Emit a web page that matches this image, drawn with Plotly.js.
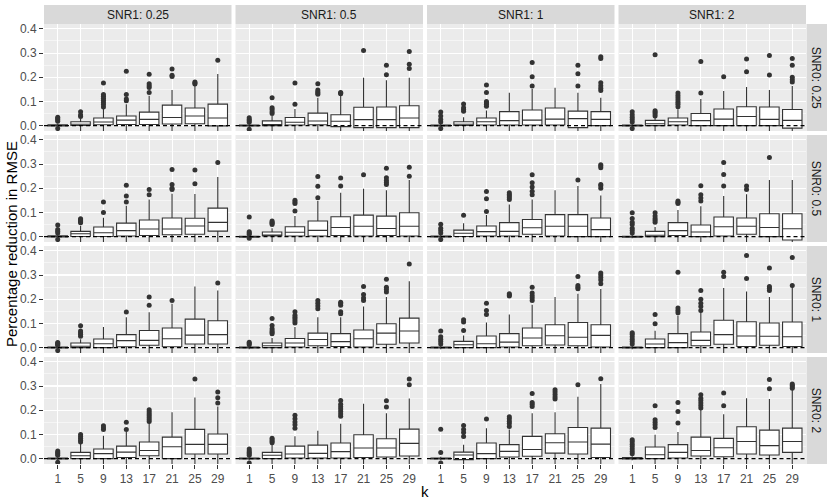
<!DOCTYPE html>
<html>
<head>
<meta charset="utf-8">
<script src="https://cdn.plot.ly/plotly-3.0.1.min.js"></script>
<style>
  html, body { margin: 0; padding: 0; background: white; }
  #chart { width: 830px; height: 504px; }
</style>
</head>
<body>
<div id="chart"></div>
<script>
// boxplots of RMSE reduction, faceted by SNR0 (rows) and SNR1 (columns)

var kLabels = ['1', '5', '9', '13', '17', '21', '25', '29'];
var snr1Labels = ['SNR1: 0.25', 'SNR1: 0.5', 'SNR1: 1', 'SNR1: 2'];
var snr0Labels = ['SNR0: 0.25', 'SNR0: 0.5', 'SNR0: 1', 'SNR0: 2'];

// [row][col][k]
var q1 = [
  [[-0.001,0.001,0.004,0.005,0.005,0.007,0.008,-0.001],
   [-0.001,0.0,0.003,0.004,-0.004,-0.008,-0.008,-0.008],
   [-0.001,0.001,0.003,0.003,0.003,0.003,-0.008,0.0],
   [-0.001,0.0,0.003,0.0,0.0,0.0,0.0,-0.01]],
  [[-0.001,0.001,0.001,0.003,0.005,0.008,0.01,0.023],
   [-0.002,0.003,0.003,0.003,0.005,0.003,0.005,0.003],
   [-0.001,0.001,0.003,0.003,0.01,0.003,0.0,0.0],
   [-0.002,0.0,0.005,0.0,0.003,0.01,0.0,-0.014]],
  [[-0.001,0.0,0.0,0.004,0.01,0.004,0.015,0.015],
   [-0.001,0.0,0.003,0.008,0.005,0.003,0.014,0.019],
   [-0.001,0.0,0.0,0.003,0.008,0.011,0.008,0.003],
   [-0.001,0.0,0.0,0.008,0.014,0.005,0.01,0.005]],
  [[-0.001,0.0,0.0,0.005,0.012,0.0,0.019,0.019],
   [-0.001,0.0,0.003,0.003,0.003,0.005,0.007,0.011],
   [-0.001,-0.004,0.0,0.007,0.01,0.023,0.019,0.005],
   [-0.001,0.0,0.003,0.011,0.008,0.019,0.015,0.026]]
];

var med = [
  [[0.001,0.006,0.015,0.023,0.026,0.034,0.04,0.032],
   [0.001,0.004,0.014,0.019,0.018,0.025,0.025,0.032],
   [0.001,0.006,0.016,0.021,0.023,0.027,0.029,0.026],
   [0.001,0.008,0.016,0.021,0.027,0.038,0.026,0.022]],
  [[0.001,0.012,0.016,0.025,0.032,0.032,0.044,0.059],
   [0.0,0.007,0.018,0.026,0.038,0.043,0.034,0.043],
   [0.001,0.014,0.021,0.022,0.037,0.043,0.043,0.029],
   [0.0,0.006,0.025,0.019,0.041,0.043,0.038,0.033]],
  [[0.001,0.006,0.016,0.029,0.03,0.037,0.052,0.054],
   [0.001,0.008,0.019,0.034,0.025,0.037,0.06,0.069],
   [0.001,0.012,0.016,0.023,0.04,0.049,0.043,0.051],
   [0.001,0.015,0.021,0.03,0.054,0.048,0.047,0.045]],
  [[0.001,0.012,0.021,0.027,0.034,0.049,0.059,0.059],
   [0.001,0.014,0.019,0.022,0.029,0.044,0.044,0.063],
   [0.001,0.015,0.021,0.03,0.038,0.066,0.069,0.06],
   [0.001,0.016,0.026,0.034,0.045,0.071,0.054,0.071]]
];

var q3 = [
  [[0.004,0.016,0.032,0.04,0.056,0.085,0.073,0.089],
   [0.003,0.02,0.034,0.052,0.045,0.076,0.077,0.082],
   [0.003,0.016,0.032,0.058,0.065,0.073,0.06,0.058],
   [0.003,0.022,0.032,0.05,0.069,0.078,0.077,0.067]],
  [[0.004,0.022,0.04,0.056,0.069,0.077,0.076,0.118],
   [0.002,0.019,0.041,0.065,0.082,0.089,0.085,0.099],
   [0.003,0.027,0.044,0.058,0.071,0.091,0.091,0.077],
   [0.002,0.022,0.058,0.048,0.081,0.077,0.095,0.095]],
  [[0.003,0.019,0.036,0.054,0.071,0.081,0.118,0.111],
   [0.003,0.019,0.038,0.06,0.058,0.073,0.099,0.122],
   [0.003,0.026,0.048,0.058,0.081,0.095,0.104,0.095],
   [0.003,0.036,0.058,0.065,0.113,0.107,0.102,0.106]],
  [[0.003,0.026,0.04,0.052,0.069,0.089,0.121,0.102],
   [0.003,0.026,0.052,0.056,0.065,0.099,0.082,0.122],
   [0.003,0.027,0.065,0.058,0.092,0.103,0.129,0.126],
   [0.005,0.048,0.058,0.089,0.084,0.132,0.118,0.126]]
];

var upper = [
  [[0.009,0.03,0.074,0.088,0.124,0.147,0.165,0.213],
   [0.008,0.04,0.069,0.115,0.126,0.198,0.188,0.198],
   [0.008,0.035,0.063,0.136,0.151,0.157,0.136,0.115],
   [0.008,0.035,0.068,0.11,0.143,0.16,0.147,0.164]],
  [[0.009,0.045,0.078,0.128,0.154,0.177,0.176,0.247],
   [0.006,0.035,0.085,0.147,0.181,0.198,0.192,0.234],
   [0.008,0.055,0.09,0.133,0.154,0.192,0.209,0.17],
   [0.008,0.04,0.11,0.126,0.168,0.175,0.234,0.234]],
  [[0.007,0.035,0.085,0.126,0.146,0.181,0.253,0.236],
   [0.007,0.04,0.085,0.126,0.126,0.17,0.209,0.274],
   [0.008,0.05,0.104,0.137,0.177,0.209,0.223,0.242],
   [0.008,0.07,0.133,0.147,0.246,0.232,0.209,0.253]],
  [[0.008,0.065,0.095,0.11,0.147,0.192,0.253,0.216],
   [0.008,0.06,0.093,0.115,0.144,0.227,0.188,0.249],
   [0.008,0.058,0.126,0.12,0.188,0.192,0.256,0.308],
   [0.01,0.099,0.11,0.202,0.184,0.25,0.246,0.286]]
];

// lower whiskers mostly run past the bottom of the panel
var lower = [-0.006, -0.03, -0.03, -0.03, -0.03, -0.03, -0.03, -0.03];

var outliers = [
  [[[0.018,0.024,0.03,0.035,-0.012],[0.038,0.044,0.058],[0.077,0.087,0.096,0.105,0.113,0.122,0.129,0.176],[0.103,0.11,0.129,0.225],[0.137,0.158,0.165,0.173,0.212],[0.203,0.208,0.234],[0.172,0.176,0.18],[0.27]],
   [[0.014,0.02,0.026,0.033,-0.015],[0.05,0.058,0.067,0.074,0.115],[0.088,0.176],[0.13,0.135,0.14,0.147,0.173],[0.132,0.135,0.137],[0.311],[0.21,0.25],[0.236,0.254,0.306]],
   [[0.015,0.025,0.04,0.056,-0.012],[0.06,0.067,0.074,0.09],[0.08,0.088,0.095,0.1,0.137,0.168],[],[0.164,0.202,0.261],[],[0.164,0.214,0.25],[0.145,0.155,0.165,0.177,0.278,0.285]],
   [[0.015,0.025,0.035,0.045,0.058,-0.012],[0.04,0.048,0.055,0.062,0.293],[0.078,0.088,0.097,0.106,0.115,0.125,0.135],[0.135,0.265],[0.202],[0.223,0.275],[0.209,0.29],[0.18,0.19,0.2,0.25,0.278]]],
  [[[0.015,0.022,0.03,0.048,-0.012],[0.058,0.062,0.066,0.07,0.074],[0.1,0.143],[0.143,0.168,0.212],[0.173,0.195],[0.195,0.2,0.216,0.278],[0.219,0.275],[0.306]],
   [[0.01,0.015,0.02,0.081,-0.006],[0.05,0.055,0.06,0.065],[0.106,0.137,0.143,0.15],[0.161,0.208,0.249],[0.209,0.242],[0.256],[0.216,0.224,0.232,0.243,0.283],[0.25,0.287]],
   [[0.015,0.025,0.035,0.051,-0.012],[0.088],[0.104,0.157,0.187],[0.154,0.161,0.168,0.174,0.181],[0.173,0.188,0.205,0.223,0.256],[],[0.234],[0.2,0.21,0.216,0.285,0.292,0.297]],
   [[0.015,0.025,0.035,0.05,0.06,0.075,0.099],[0.06,0.068,0.075,0.085,0.099],[0.137,0.142,0.147],[0.147,0.16,0.173,0.21],[0.209,0.257,0.306],[0.195,0.209],[0.327],[]]],
  [[[0.01,0.014,0.018,0.021,-0.012],[0.047,0.055,0.062,0.069,0.091],[],[0.147],[0.175,0.209],[0.195],[],[0.267]],
   [[0.012,0.017,0.022],[0.058,0.064,0.07,0.078,0.092,0.121],[0.102,0.11,0.118,0.126,0.134,0.148],[0.161,0.172,0.184,0.195],[0.14,0.148,0.175,0.182,0.188],[0.195,0.205,0.22,0.253],[0.23,0.24,0.25,0.283],[0.346]],
   [[0.015,0.025,0.035,0.045,0.069],[0.071,0.106,0.115],[0.137,0.154,0.184],[0.213,0.218,0.223],[0.195,0.205,0.215,0.226,0.25],[],[0.243,0.25,0.257,0.294],[0.264,0.28,0.29,0.3,0.308]],
   [[0.015,0.025,0.035,0.045,0.055,0.062],[0.099,0.137],[0.144,0.154,0.164,0.312],[0.154,0.17,0.184,0.2,0.236],[0.294,0.312],[0.286,0.381],[0.236,0.245,0.253,0.329],[0.257,0.373]]],
  [[[0.014,0.02,0.026,0.032,-0.015],[0.069,0.076,0.084,0.092,0.1],[0.12,0.128,0.136],[0.121,0.15],[0.154,0.162,0.17,0.178,0.186,0.194,0.202],[],[0.329],[0.23,0.252,0.275]],
   [[0.014,0.02,0.026,0.032,0.04,-0.018],[0.066,0.072,0.078,0.084],[0.126,0.14,0.152,0.165,0.179],[],[0.175,0.185,0.195,0.205,0.215,0.225,0.24],[],[0.213,0.239],[0.305,0.329]],
   [[0.026,0.122,-0.018],[0.092,0.108,0.12,0.137],[0.164],[0.133,0.145,0.155,0.165,0.173],[0.216,0.225,0.232,0.269],[0.246,0.255,0.265,0.275,0.285],[0.305],[0.33]],
   [[0.02,0.03,0.04,0.05,0.06,0.07,0.078],[0.129,0.14,0.15,0.161,0.219],[0.147,0.195,0.232],[0.209,0.22,0.23,0.24,0.25,0.264],[0.219,0.271],[],[0.289,0.327],[0.291,0.297,0.303,0.308]]]
];

var W = 830, H = 504;
var panelLeft = 44, panelW = 187.5, colStep = 191.5;
var panelTop = 24, panelH = 107, rowStep = 111;
var font = 'Liberation Sans, Arial, sans-serif';

var data = [];
var layout = {
  width: W,
  height: H,
  margin: {l: 0, r: 0, t: 0, b: 0},
  paper_bgcolor: 'white',
  plot_bgcolor: '#EBEBEB',
  showlegend: false,
  font: {family: font, color: '#4D4D4D', size: 12},
  shapes: [],
  annotations: []
};

for (var r = 0; r < 4; r++) {
  for (var c = 0; c < 4; c++) {
    var i = r * 4 + c + 1;
    var xa = i == 1 ? 'x' : 'x' + i;
    var ya = i == 1 ? 'y' : 'y' + i;
    var colLeft = panelLeft + c * colStep;
    var rowTop = panelTop + r * rowStep;

    layout['xaxis' + (i == 1 ? '' : i)] = {
      domain: [colLeft / W, (colLeft + panelW) / W],
      anchor: ya,
      type: 'category',
      categoryorder: 'array',
      categoryarray: kLabels,
      range: [-0.6, 7.6],
      showgrid: true,
      gridcolor: 'white',
      gridwidth: 1.1,
      zeroline: false,
      showline: false,
      ticks: r == 3 ? 'outside' : '',
      ticklen: 4,
      tickcolor: '#333333',
      showticklabels: r == 3,
      tickfont: {size: 12, color: '#4D4D4D'}
    };
    layout['yaxis' + (i == 1 ? '' : i)] = {
      domain: [1 - (rowTop + panelH) / H, 1 - rowTop / H],
      anchor: xa,
      range: [-0.022, 0.42],
      tick0: 0,
      dtick: 0.1,
      tickformat: '.1f',
      showgrid: true,
      gridcolor: 'white',
      gridwidth: 1.1,
      minor: {dtick: 0.05, tick0: 0, showgrid: true, gridcolor: 'white', gridwidth: 0.5},
      zeroline: false,
      showline: false,
      ticks: c == 0 ? 'outside' : '',
      ticklen: 4,
      tickcolor: '#333333',
      showticklabels: c == 0,
      tickfont: {size: 12, color: '#4D4D4D'}
    };

    data.push({
      type: 'box',
      x: kLabels,
      q1: q1[r][c],
      median: med[r][c],
      q3: q3[r][c],
      lowerfence: lower,
      upperfence: upper[r][c],
      xaxis: xa,
      yaxis: ya,
      width: 0.85,
      whiskerwidth: 0,
      fillcolor: 'white',
      line: {color: '#333333', width: 1.1},
      boxpoints: false,
      hoverinfo: 'skip'
    });

    var ox = [], oy = [];
    for (var k = 0; k < kLabels.length; k++) {
      var pts = outliers[r][c][k];
      for (var p = 0; p < pts.length; p++) {
        ox.push(kLabels[k]);
        oy.push(pts[p]);
      }
    }
    data.push({
      type: 'scatter',
      mode: 'markers',
      x: ox,
      y: oy,
      xaxis: xa,
      yaxis: ya,
      marker: {color: '#333333', size: 5},
      cliponaxis: true,
      hoverinfo: 'skip'
    });

    // dashed zero line
    layout.shapes.push({
      type: 'line',
      xref: xa + ' domain', x0: 0, x1: 1,
      yref: ya, y0: 0, y1: 0,
      line: {color: 'black', width: 1.1, dash: '4px,3px'}
    });
  }
}

// top strips
for (var c = 0; c < 4; c++) {
  var colLeft = panelLeft + c * colStep;
  layout.shapes.push({
    type: 'rect', xref: 'paper', yref: 'paper', layer: 'below',
    x0: colLeft / W, x1: (colLeft + panelW) / W,
    y0: 1 - panelTop / H, y1: 1 - 5 / H,
    fillcolor: '#D9D9D9', line: {width: 0}
  });
  layout.annotations.push({
    xref: 'paper', yref: 'paper', xanchor: 'center', yanchor: 'middle',
    x: (colLeft + panelW / 2) / W, y: 1 - 14.5 / H,
    text: snr1Labels[c], showarrow: false,
    font: {family: font, size: 12, color: '#1A1A1A'}
  });
}

// right strips
for (var r = 0; r < 4; r++) {
  var rowTop = panelTop + r * rowStep;
  layout.shapes.push({
    type: 'rect', xref: 'paper', yref: 'paper', layer: 'below',
    x0: 806.5 / W, x1: 827 / W,
    y0: 1 - (rowTop + panelH) / H, y1: 1 - rowTop / H,
    fillcolor: '#D9D9D9', line: {width: 0}
  });
  layout.annotations.push({
    xref: 'paper', yref: 'paper', xanchor: 'center', yanchor: 'middle',
    x: 816.8 / W, y: 1 - (rowTop + panelH / 2) / H,
    text: snr0Labels[r], showarrow: false, textangle: 90,
    font: {family: font, size: 12, color: '#1A1A1A'}
  });
}

// axis titles
layout.annotations.push({
  xref: 'paper', yref: 'paper', xanchor: 'center', yanchor: 'middle',
  x: 11 / W, y: 1 - 244 / H,
  text: 'Percentage reduction in RMSE', showarrow: false, textangle: -90,
  font: {family: font, size: 15, color: 'black'}
});
layout.annotations.push({
  xref: 'paper', yref: 'paper', xanchor: 'center', yanchor: 'middle',
  x: 425 / W, y: 1 - 491 / H,
  text: 'k', showarrow: false,
  font: {family: font, size: 15, color: 'black'}
});

Plotly.newPlot('chart', data, layout, {displayModeBar: false, staticPlot: true});
</script>
</body>
</html>
